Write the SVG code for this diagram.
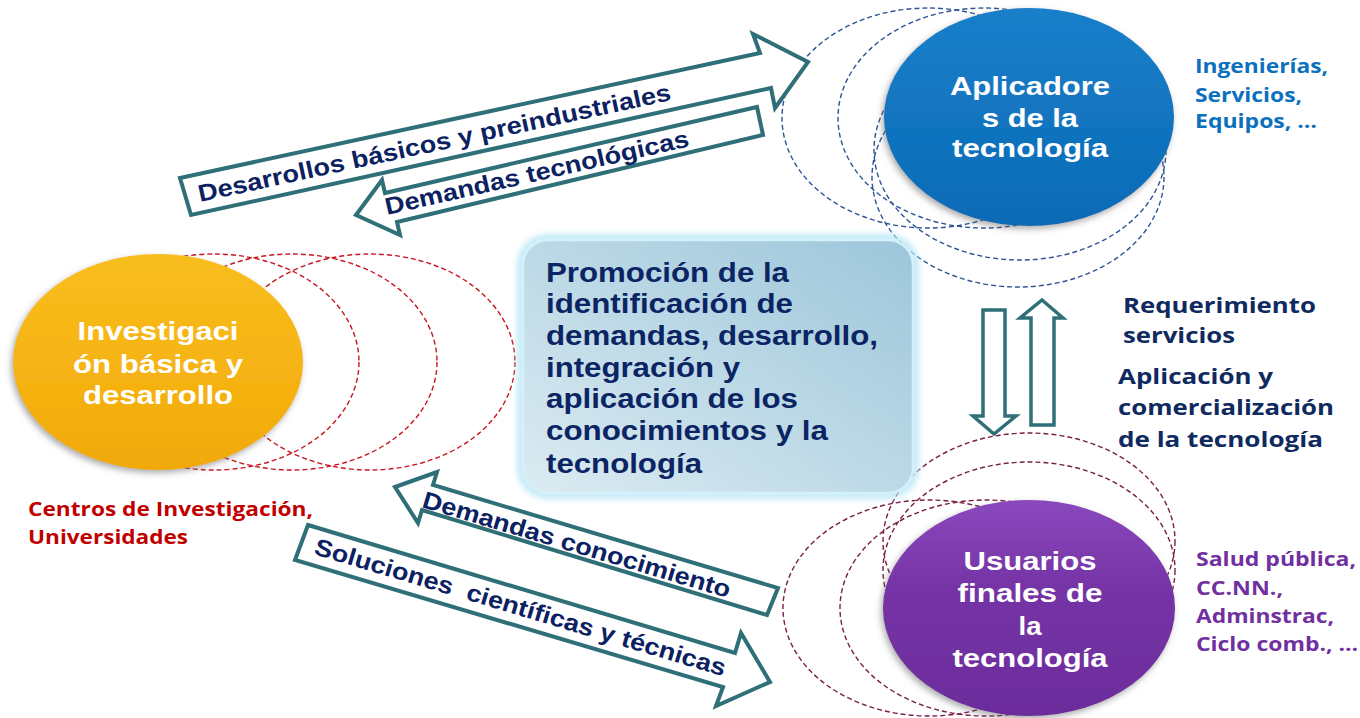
<svg xmlns="http://www.w3.org/2000/svg" width="1360" height="718" viewBox="0 0 1360 718">
<style>
.bg{fill:#ffffff}
.dr{fill:none;stroke:#c8151f;stroke-width:1.4;stroke-dasharray:5 3}
.db{fill:none;stroke:#2f5496;stroke-width:1.4;stroke-dasharray:5 3}
.dp{fill:none;stroke:#7a1f45;stroke-width:1.4;stroke-dasharray:5 3}
.nt{font-family:"Liberation Sans",Arial,sans-serif;font-weight:bold;font-size:26px;fill:#ffffff;text-anchor:middle}
.bt{font-family:"Liberation Sans",Arial,sans-serif;font-weight:bold;font-size:28px;fill:#0b2463}
.arr{fill:#ffffff;stroke:#2f6f78;stroke-width:4;stroke-linejoin:miter}
.varr{fill:#ffffff;stroke:#2f6f78;stroke-width:3.5;stroke-linejoin:miter}
.at{font-family:"Liberation Sans",Arial,sans-serif;font-weight:bold;fill:#0b2161;font-size:24px}
.cal{font-family:"Open Sans","Noto Sans",sans-serif;font-weight:bold}
.navy{fill:#0f2a5f;font-size:21px}
.blue{fill:#0b70bd;font-size:19px}
.purp{fill:#7030a0;font-size:20px}
.red{fill:#c00000;font-size:20px}
</style>
<defs>
<linearGradient id="gy" x1="0" y1="0" x2="0" y2="1">
<stop offset="0" stop-color="#f8be1e"/>
<stop offset="0.5" stop-color="#f6b414"/>
<stop offset="1" stop-color="#f1a906"/>
</linearGradient>
<linearGradient id="gb" x1="0" y1="0" x2="0" y2="1">
<stop offset="0" stop-color="#1a7fca"/>
<stop offset="1" stop-color="#0a6ab5"/>
</linearGradient>
<linearGradient id="gp" x1="0" y1="0" x2="0" y2="1">
<stop offset="0" stop-color="#8a48bd"/>
<stop offset="0.4" stop-color="#7634a6"/>
<stop offset="1" stop-color="#6c2c9c"/>
</linearGradient>
<linearGradient id="gbox" x1="1" y1="0" x2="0" y2="1">
<stop offset="0" stop-color="#9cc6da"/>
<stop offset="1" stop-color="#dcebf2"/>
</linearGradient>
<filter id="sh" x="-20%" y="-20%" width="140%" height="140%">
<feDropShadow dx="-2" dy="3" stdDeviation="3" flood-color="#666" flood-opacity="0.55"/>
</filter>
<filter id="glow" x="-10%" y="-10%" width="120%" height="120%">
<feGaussianBlur stdDeviation="3"/>
</filter>
</defs>
<rect class="bg" x="0" y="0" width="1360" height="718"/>

<g id="node-investigacion">
<ellipse class="dr" cx="214" cy="362" rx="145" ry="108"/>
<ellipse class="dr" cx="292" cy="362" rx="145" ry="108"/>
<ellipse class="dr" cx="370" cy="362" rx="145" ry="108"/>
<ellipse cx="158" cy="362" rx="145" ry="108" fill="url(#gy)" filter="url(#sh)"/>
<text class="nt" x="158" y="340" textLength="161" lengthAdjust="spacingAndGlyphs">Investigaci</text>
<text class="nt" x="158" y="373" textLength="170" lengthAdjust="spacingAndGlyphs">ón básica y</text>
<text class="nt" x="158" y="404" textLength="150" lengthAdjust="spacingAndGlyphs">desarrollo</text>
</g>

<g id="node-aplicadores">
<ellipse class="db" cx="928" cy="118" rx="146" ry="110"/>
<ellipse class="db" cx="984" cy="118" rx="146" ry="110"/>
<ellipse class="db" cx="1020" cy="150" rx="146" ry="110"/>
<ellipse class="db" cx="1018" cy="177" rx="146" ry="110"/>
<ellipse cx="1029" cy="117" rx="145" ry="109" fill="url(#gb)" filter="url(#sh)"/>
<text class="nt" x="1030" y="95" textLength="160" lengthAdjust="spacingAndGlyphs">Aplicadore</text>
<text class="nt" x="1030" y="127" textLength="96" lengthAdjust="spacingAndGlyphs">s de la</text>
<text class="nt" x="1030" y="157" textLength="156" lengthAdjust="spacingAndGlyphs">tecnología</text>
</g>

<g id="node-usuarios">
<ellipse class="dp" cx="1029" cy="541" rx="146" ry="108"/>
<ellipse class="dp" cx="1029" cy="570" rx="146" ry="108"/>
<ellipse class="dp" cx="929" cy="608" rx="146" ry="108"/>
<ellipse class="dp" cx="986" cy="608" rx="146" ry="108"/>
<ellipse cx="1029" cy="608" rx="146" ry="108" fill="url(#gp)" filter="url(#sh)"/>
<text class="nt" x="1030" y="570" textLength="133" lengthAdjust="spacingAndGlyphs">Usuarios</text>
<text class="nt" x="1030" y="602" textLength="145" lengthAdjust="spacingAndGlyphs">finales de</text>
<text class="nt" x="1030" y="635" textLength="23" lengthAdjust="spacingAndGlyphs">la</text>
<text class="nt" x="1030" y="667" textLength="155" lengthAdjust="spacingAndGlyphs">tecnología</text>
</g>

<g id="node-promocion">
<rect x="521" y="238" width="394" height="257" rx="27" fill="none" stroke="#b9e6f6" stroke-width="7" filter="url(#glow)"/>
<rect x="523" y="240" width="390" height="253" rx="25" fill="url(#gbox)" stroke="#d4f1fb" stroke-width="2.5"/>
<text class="bt" x="546" y="282" textLength="243" lengthAdjust="spacingAndGlyphs">Promoción de la</text>
<text class="bt" x="546" y="313" textLength="247" lengthAdjust="spacingAndGlyphs">identificación de</text>
<text class="bt" x="546" y="345" textLength="332" lengthAdjust="spacingAndGlyphs">demandas, desarrollo,</text>
<text class="bt" x="546" y="377" textLength="194" lengthAdjust="spacingAndGlyphs">integración y</text>
<text class="bt" x="546" y="408" textLength="252" lengthAdjust="spacingAndGlyphs">aplicación de los</text>
<text class="bt" x="546" y="440" textLength="282" lengthAdjust="spacingAndGlyphs">conocimientos y la</text>
<text class="bt" x="546" y="473" textLength="156" lengthAdjust="spacingAndGlyphs">tecnología</text>
</g>

<g id="label-aplicadores">
<text class="cal blue" x="1195" y="73" textLength="133" lengthAdjust="spacingAndGlyphs">Ingenierías,</text>
<text class="cal blue" x="1195" y="102" textLength="107" lengthAdjust="spacingAndGlyphs">Servicios,</text>
<text class="cal blue" x="1195" y="128" textLength="122" lengthAdjust="spacingAndGlyphs">Equipos, …</text>
</g>
<g id="label-investigacion">
<text class="cal red" x="28" y="516" textLength="285" lengthAdjust="spacingAndGlyphs">Centros de Investigación,</text>
<text class="cal red" x="28" y="544" textLength="160" lengthAdjust="spacingAndGlyphs">Universidades</text>
</g>
<g id="label-usuarios">
<text class="cal purp" x="1196" y="566" textLength="160" lengthAdjust="spacingAndGlyphs">Salud pública,</text>
<text class="cal purp" x="1196" y="595" textLength="87" lengthAdjust="spacingAndGlyphs">CC.NN.,</text>
<text class="cal purp" x="1196" y="623" textLength="138" lengthAdjust="spacingAndGlyphs">Adminstrac,</text>
<text class="cal purp" x="1196" y="651" textLength="162" lengthAdjust="spacingAndGlyphs">Ciclo comb., …</text>
</g>

<g id="connectors">
<polygon class="arr" points="180,178 760,53 753,34 808,62 775,108 771,88 191,215"/>
<polygon class="arr" points="356,215 382,180 385,193 757,107 763,135 397,222 400,235"/>
<polygon class="arr" points="395,487 437,472 433,485 778,588 767,615 422,510 418,523"/>
<polygon class="arr" points="308,525 735,653 741,633 770,682 716,706 723,687 295,560"/>
<polygon class="varr" points="983,310 1005,310 1005,416 1016,416 994,434 973,416 983,416"/>
<polygon class="varr" points="1042,300 1063,318 1054,318 1054,425 1031,425 1031,318 1020,318"/>
<text class="at" transform="translate(200,202) rotate(-12.2)" textLength="483" lengthAdjust="spacingAndGlyphs">Desarrollos básicos y preindustriales</text>
<text class="at" transform="translate(387,215) rotate(-12.8)" textLength="311" lengthAdjust="spacingAndGlyphs">Demandas tecnológicas</text>
<text class="at" transform="translate(421,507) rotate(16.5)" textLength="320" lengthAdjust="spacingAndGlyphs">Demandas conocimiento</text>
<text class="at" transform="translate(313,554) rotate(16.6)" textLength="428" lengthAdjust="spacingAndGlyphs" xml:space="preserve" style="white-space:pre">Soluciones  científicas y técnicas</text>
<text class="cal navy" x="1123" y="313" textLength="193" lengthAdjust="spacingAndGlyphs">Requerimiento</text>
<text class="cal navy" x="1123" y="343" textLength="112" lengthAdjust="spacingAndGlyphs">servicios</text>
<text class="cal navy" x="1118" y="384" textLength="155" lengthAdjust="spacingAndGlyphs">Aplicación y</text>
<text class="cal navy" x="1118" y="415" textLength="216" lengthAdjust="spacingAndGlyphs">comercialización</text>
<text class="cal navy" x="1118" y="447" textLength="205" lengthAdjust="spacingAndGlyphs">de la tecnología</text>
</g>
</svg>
